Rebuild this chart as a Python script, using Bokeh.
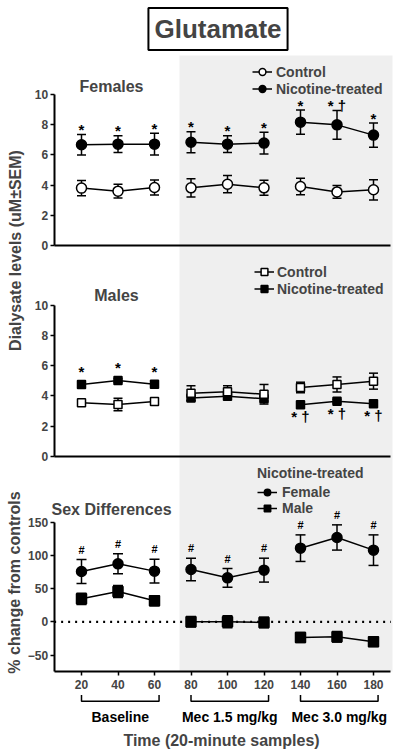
import math
from bokeh.plotting import figure
from bokeh.models import (Range1d, LinearAxis, FixedTicker, BoxAnnotation, Label,
                          Legend, LegendItem)
from bokeh.core.properties import value
from bokeh.embed import file_html
from bokeh.resources import INLINE

# ------------------------------------------------------------------ data
times = [20, 40, 60, 80, 100, 120, 140, 160, 180]
group_names = ["Baseline", "Mec 1.5 mg/kg", "Mec 3.0 mg/kg"]
group_first = [20, 80, 140]
group_last = [60, 120, 180]

fem_ctrl_mean = [3.80, 3.60, 3.84, 3.82, 4.06, 3.82, 3.91, 3.55, 3.69]
fem_ctrl_sem = [0.50, 0.45, 0.50, 0.60, 0.57, 0.50, 0.55, 0.42, 0.67]
fem_nic_mean = [6.67, 6.71, 6.71, 6.84, 6.71, 6.78, 8.17, 7.99, 7.31]
fem_nic_sem = [0.68, 0.55, 0.72, 0.70, 0.55, 0.72, 0.80, 0.95, 0.80]
fem_marks = ["*", "*", "*", "*", "*", "*", "*", "* \u2020", "*"]

male_ctrl_mean = [3.54, 3.43, 3.63, 4.18, 4.27, 4.11, 4.56, 4.76, 4.98]
male_ctrl_sem = [0.12, 0.42, 0.20, 0.50, 0.40, 0.65, 0.35, 0.50, 0.53]
male_nic_mean = [4.76, 5.02, 4.78, 3.87, 3.98, 3.81, 3.41, 3.65, 3.48]
male_nic_sem = [0.12, 0.12, 0.12, 0.15, 0.15, 0.15, 0.12, 0.12, 0.12]
male_marks_above = ["*", "*", "*", "", "", "", "", "", ""]
male_marks_below = ["", "", "", "", "", "", "* \u2020", "* \u2020", "* \u2020"]

sex_fem_mean = [75.8, 87.3, 76.3, 78.8, 66.2, 77.8, 110.9, 127.0, 107.9]
sex_fem_sem = [18, 15, 18, 17, 14, 18, 20, 19, 23]
sex_male_mean = [34.6, 45.6, 31.6, 0.0, 0.0, -1.0, -23.6, -22.6, -30.1]
sex_male_sem = [8.5, 9, 7.5, 8, 9, 8, 7.5, 8, 7]
sex_marks = ["#"] * 9

dialysate_ticks = [0, 2, 4, 6, 8, 10]
pct_ticks = [-50, 0, 50, 100, 150]

# ------------------------------------------------------------------ layout
W, H = 400, 756
FONT = "Liberation Sans"
X_PPU = 1.825                     # px per minute
X_START = 20 - 81 / X_PPU
X_END = X_START + W / X_PPU

# (pixel of zero from top of canvas, px per unit)
F_ZERO, F_PPU = 245.0, 15.1
M_ZERO, M_PPU = 455.7, 15.07
P_ZERO, P_PPU = 621.3, 0.664


def fx(px):
    return X_START + px / X_PPU


def fy(py, zero, ppu):
    return (zero - py) / ppu


def yrange(zero, ppu):
    return Range1d(-(H - zero) / ppu, zero / ppu)


p = figure(width=W, height=H, x_range=Range1d(X_START, X_END),
           y_range=yrange(P_ZERO, P_PPU), output_backend="svg",
           toolbar_location=None, min_border=0, outline_line_color=None,
           x_axis_type=None, y_axis_type=None)
p.extra_y_ranges = {"f": yrange(F_ZERO, F_PPU), "m": yrange(M_ZERO, M_PPU)}
p.background_fill_color = "white"
p.border_fill_color = "white"

# grey band (mecamylamine periods)
p.add_layout(BoxAnnotation(left=fx(179), right=fx(392), bottom=-75,
                           top=fy(55, P_ZERO, P_PPU), fill_color="#efefef",
                           fill_alpha=1, line_alpha=0, level="underlay"))

AX_X = 5
AX_X_END = 189.5


def yaxis(rng, lo, hi, ticks):
    ax = LinearAxis(y_range_name=rng, fixed_location=AX_X, bounds=(lo, hi),
                    ticker=FixedTicker(ticks=ticks))
    ax.axis_line_width = 2
    ax.major_tick_line_width = 1.5
    ax.major_tick_out = 4
    ax.major_tick_in = 0
    ax.minor_tick_line_color = None
    ax.major_label_text_font = FONT
    ax.major_label_text_font_style = "bold"
    ax.major_label_text_font_size = "12px"
    ax.major_label_standoff = 2
    p.add_layout(ax, "left")


def xaxis(rng, loc, ticks, labels):
    ax = LinearAxis(y_range_name=rng, fixed_location=loc, bounds=(AX_X, AX_X_END),
                    ticker=FixedTicker(ticks=ticks))
    ax.axis_line_width = 2
    ax.major_tick_line_width = 1.5
    ax.major_tick_out = 4 if labels else 0
    ax.major_tick_in = 0
    ax.minor_tick_line_color = None
    ax.major_label_text_font = FONT
    ax.major_label_text_font_style = "bold"
    ax.major_label_text_font_size = "12px" if labels else "0px"
    ax.major_label_standoff = 4
    p.add_layout(ax, "below")


yaxis("f", 0, 10, dialysate_ticks)
yaxis("m", 0, 10, dialysate_ticks)
yaxis("default", -75, 150, pct_ticks)
xaxis("f", 0, [], False)
xaxis("m", 0, [], False)
xaxis("default", -75, times, True)

# dotted zero line in the sex-difference panel
p.segment(x0=[AX_X], y0=[0], x1=[AX_X_END], y1=[0], line_color="black",
          line_width=2.2, line_dash="2 5")


def series(mean, sem, rng, marker, fill, size, cap=9):
    lo = [m - s for m, s in zip(mean, sem)]
    hi = [m + s for m, s in zip(mean, sem)]
    kw = dict(y_range_name=rng)
    p.segment(times, lo, times, hi, line_color="black", line_width=1.5, **kw)
    p.scatter(times, hi, marker="dash", size=cap, line_color="black",
              line_width=1.5, **kw)
    p.scatter(times, lo, marker="dash", size=cap, line_color="black",
              line_width=1.5, **kw)
    xs = [times[i:i + 3] for i in (0, 3, 6)]
    ys = [mean[i:i + 3] for i in (0, 3, 6)]
    lr = p.multi_line(xs, ys, line_color="black", line_width=1.5, **kw)
    sr = p.scatter(times, mean, marker=marker, size=size, fill_color=fill,
                   line_color="black", line_width=1.5, **kw)
    return lr, sr, lo, hi


def marks(xvals, yvals, texts, rng, size):
    p.text(xvals, yvals, text=texts, y_range_name=rng, text_font=value(FONT),
           text_font_size=size, text_font_style="bold", text_align="center",
           text_baseline="alphabetic", text_color="black")


# Females
fn_l, fn_s, fn_lo, fn_hi = series(fem_nic_mean, fem_nic_sem, "f", "circle", "black", 10)
fc_l, fc_s, _, _ = series(fem_ctrl_mean, fem_ctrl_sem, "f", "circle", "white", 10)
marks(times, [h + 5 / F_PPU for h in fn_hi], fem_marks, "f", "15px")

# Males
mn_l, mn_s, mn_lo, mn_hi = series(male_nic_mean, male_nic_sem, "m", "square", "black", 8)
mc_l, mc_s, _, _ = series(male_ctrl_mean, male_ctrl_sem, "m", "square", "white", 8)
marks(times, [h + 11 / M_PPU for h in mn_hi], male_marks_above, "m", "15px")
marks(times, [l - 10 / M_PPU for l in mn_lo], male_marks_below, "m", "15px")

# Sex differences
sf_l, sf_s, sf_lo, sf_hi = series(sex_fem_mean, sex_fem_sem, "default", "circle", "black", 10, cap=10)
sm_l, sm_s, _, _ = series(sex_male_mean, sex_male_sem, "default", "square", "black", 10, cap=10)
marks(times, [h + 10 / P_PPU for h in sf_hi], sex_marks, "default", "11px")

# group brackets below the time axis
b_top = fy(694.5, P_ZERO, P_PPU)
b_bot = fy(700.7, P_ZERO, P_PPU)
bx = [[a, a, b + 2.5, b + 2.5] for a, b in zip(group_first, group_last)]
by = [[b_top, b_bot, b_bot, b_top] for _ in group_first]
p.multi_line(bx, by, line_color="black", line_width=1.5)
p.text([(a + b + 2.5) / 2 for a, b in zip(group_first, group_last)],
       [fy(716.7, P_ZERO, P_PPU)] * 3, text=group_names, text_font=value(FONT),
       text_font_style="bold", text_font_size="14px", text_align="center",
       text_baseline="middle")


def label(text, x, y, rng, size, align="center", angle=0.0, **extra):
    p.add_layout(Label(x=x, y=y, y_range_name=rng, text=text, text_font=FONT,
                       text_font_style="bold", text_font_size=size,
                       text_align=align, text_baseline="middle", angle=angle,
                       **extra))


label("Glutamate", fx(217.5), fy(28.5, F_ZERO, F_PPU), "f", "26px",
      border_line_color="black", border_line_width=2,
      background_fill_color="white", padding=6)
label("Females", fx(111), fy(86, F_ZERO, F_PPU), "f", "16px")
label("Males", fx(116), fy(295, M_ZERO, M_PPU), "m", "16px")
label("Sex Differences", fx(51), fy(509, P_ZERO, P_PPU), "default", "16px", align="left")
label("Dialysate levels (uM\u00b1SEM)", fx(15), fy(250, F_ZERO, F_PPU), "f", "16px",
      angle=math.pi / 2)
label("% change from controls", fx(14), fy(582, P_ZERO, P_PPU), "default", "16px",
      angle=math.pi / 2)
label("Time (20-minute samples)", fx(221), fy(740, P_ZERO, P_PPU), "default", "16px")


def legend(items, loc, standoff, gh, spacing, title=None):
    lg = Legend(items=[LegendItem(label=t, renderers=r) for t, r in items],
                location=loc, orientation="vertical", glyph_width=20,
                glyph_height=gh, label_height=12, spacing=spacing, padding=0,
                margin=0, label_standoff=standoff, border_line_alpha=0,
                background_fill_alpha=0, label_text_font=FONT,
                label_text_font_style="bold", label_text_font_size="14px")
    if title:
        lg.title = title
        lg.title_text_font = FONT
        lg.title_text_font_style = "bold"
        lg.title_text_font_size = "14px"
        lg.title_standoff = 3
    p.add_layout(lg)


legend([("Control", [fc_l, fc_s]), ("Nicotine-treated", [fn_l, fn_s])],
       (252, H - 97.2), 4, 17, 0)
legend([("Control", [mc_l, mc_s]), ("Nicotine-treated", [mn_l, mn_s])],
       (254, H - 297), 3, 17, 0)
legend([("Female", [sf_l, sf_s]), ("Male", [sm_l, sm_s])],
       (257, H - 516), 5, 16, -1, title="Nicotine-treated")

open("out.html", "w").write(file_html(p, INLINE))
